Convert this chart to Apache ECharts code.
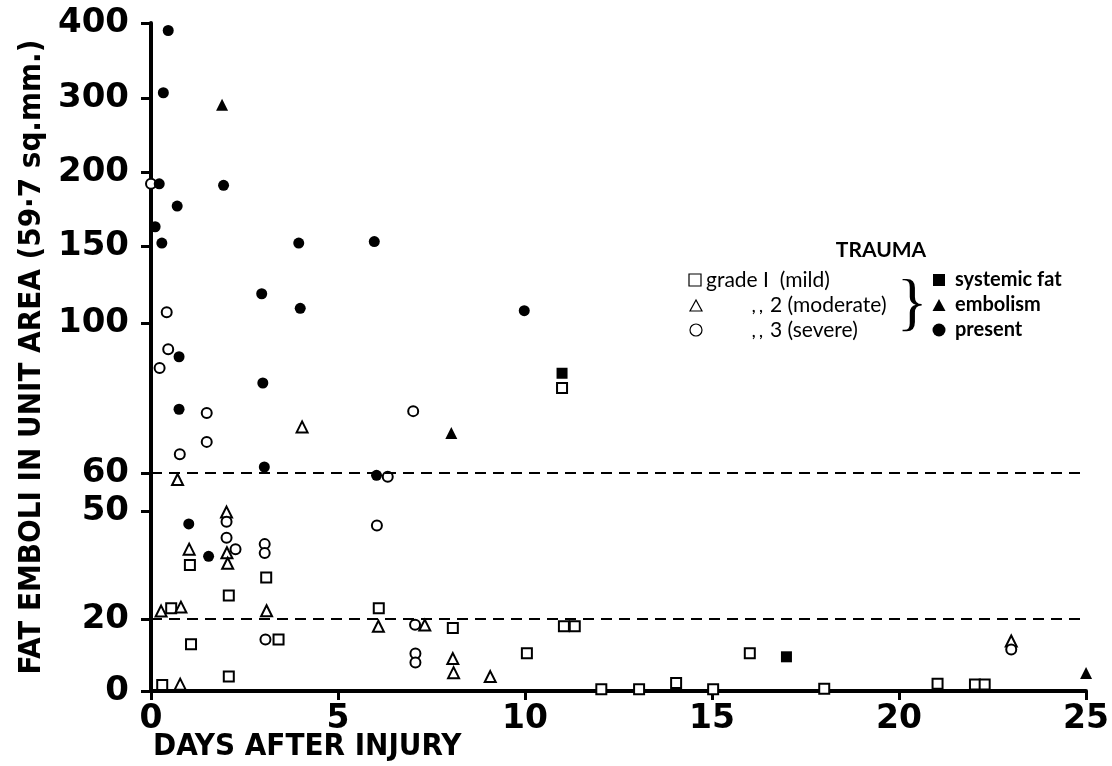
<!DOCTYPE html>
<html>
<head>
<meta charset="utf-8">
<title>Fat emboli after injury</title>
<script src="https://cdn.jsdelivr.net/npm/echarts@6.0.0/dist/echarts.min.js"></script>
<style>
  html, body { margin: 0; padding: 0; background: #fff; }
  #chart { width: 1112px; height: 766px; }
</style>
</head>
<body>
<div id="chart"></div>
<script>
// tick labels
const yTickValues = [0, 20, 50, 60, 100, 150, 200, 300, 400]
const xTickValues = [0, 5, 10, 15, 20, 25]

// [days after injury, fat emboli in unit area]
// no systemic fat embolism
const grade1 = [
  [1.04, 35], [3.08, 31.5], [2.08, 26.5], [0.54, 23], [1.07, 13], [3.41, 14.3],
  [2.08, 4], [0.3, 1.7], [6.09, 23], [8.07, 17.5], [11.04, 18], [11.33, 18],
  [10.05, 10.5], [12.04, 0.5], [13.05, 0.5], [14.04, 2.2], [15.03, 0.5],
  [16.01, 10.5], [18.0, 0.6], [21.03, 2], [22.03, 1.8], [22.29, 1.8], [10.99, 82.7]
]
const grade2 = [
  [0.71, 58.3], [2.02, 49.7], [1.02, 39.4], [2.03, 38.4], [2.05, 35.5], [0.27, 22.2],
  [0.8, 23.3], [3.09, 22.3], [0.78, 1.9], [4.04, 72.3], [6.08, 18], [7.32, 18.3],
  [8.07, 9], [8.09, 5.1], [9.07, 4], [23.0, 13.9]
]
const grade3 = [
  [0, 192], [0.42, 107], [0.46, 93], [0.23, 88], [1.49, 76], [1.49, 68.3], [0.77, 65],
  [2.02, 47], [2.02, 42.6], [2.26, 39.4], [3.04, 40.8], [3.04, 38.3], [3.06, 14.3],
  [7.01, 76.5], [6.33, 59], [6.04, 46], [7.06, 18.4], [7.07, 10.4], [7.07, 7.9], [23.0, 11.5]
]
// systemic fat embolism present
const grade1Emb = [[10.99, 86.6], [16.99, 9.5]]
const grade2Emb = [[1.9, 291], [8.03, 70.7], [25.0, 5]]
const grade3Emb = [
  [0.46, 390], [0.33, 307], [0.22, 192], [1.94, 191], [0.7, 177], [0.11, 163],
  [0.29, 152], [3.95, 152], [2.96, 119], [3.99, 109.5], [0.75, 91], [2.99, 84],
  [0.75, 77], [3.03, 61.6], [1.01, 46.4], [1.54, 37.4], [5.97, 153], [9.98, 108], [6.03, 59.4]
]
const cutoffs = [60, 20]

// the printed y scale is stretched piecewise: where each tick sits along the axis
const Y_TICK_POS = [0, 72, 180, 218, 368, 445, 519, 593, 668]

function toPos(v) {
  for (let i = 1; i < yTickValues.length; i++) {
    if (v <= yTickValues[i]) {
      const a = yTickValues[i - 1], b = yTickValues[i]
      return Y_TICK_POS[i - 1] + (v - a) / (b - a) * (Y_TICK_POS[i] - Y_TICK_POS[i - 1])
    }
  }
  return Y_TICK_POS[Y_TICK_POS.length - 1]
}
const mapPts = (arr) => arr.map(([d, v]) => [d, toPos(v)])

const chart = echarts.init(document.getElementById("chart"))

const heavy = "'DejaVu Sans', sans-serif"
const narrow = "'DejaVu Sans Condensed', 'Liberation Sans Narrow', 'DejaVu Sans', sans-serif"
const legendFont = "Lato, 'Open Sans', sans-serif"

const hollow = { color: "#fff", borderColor: "#000", borderWidth: 2, opacity: 1 }
const solid = { color: "#000", opacity: 1 }

const option = {
  animation: false,
  backgroundColor: "#fff",
  title: {
    text: "DAYS AFTER INJURY",
    left: 148,
    top: 726,
    textStyle: { fontFamily: narrow, fontWeight: "bold", fontSize: 31, color: "#000" }
  },
  grid: { left: 151, right: 22, top: 23, bottom: 75 },
  xAxis: {
    type: "value",
    min: 0,
    max: 25,
    interval: 5,
    splitLine: { show: false },
    axisLine: { lineStyle: { color: "#000", width: 4 } },
    axisTick: { length: 9, lineStyle: { color: "#000", width: 3 } },
    axisLabel: {
      margin: 12,
      fontFamily: heavy,
      fontWeight: "bold",
      fontSize: 33,
      color: "#000",
      customValues: xTickValues
    }
  },
  yAxis: {
    type: "value",
    min: 0,
    max: Y_TICK_POS[Y_TICK_POS.length - 1],
    name: "FAT EMBOLI IN UNIT AREA (59·7 sq.mm.)",
    nameLocation: "middle",
    nameRotate: 90,
    nameGap: 104,
    nameTextStyle: { fontFamily: narrow, fontWeight: "bold", fontSize: 31, color: "#000" },
    splitLine: { show: false },
    axisLine: { show: true, lineStyle: { color: "#000", width: 4 } },
    axisTick: { show: true, length: 10, lineStyle: { color: "#000", width: 3 }, customValues: Y_TICK_POS },
    axisLabel: {
      margin: 22,
      fontFamily: heavy,
      fontWeight: "bold",
      fontSize: 34,
      color: "#000",
      customValues: Y_TICK_POS,
      formatter: (p) => {
        const i = Y_TICK_POS.indexOf(p)
        return i >= 0 ? String(yTickValues[i]) : ""
      }
    }
  },
  series: [
    {
      name: "grade 1 (mild)", type: "scatter", symbol: "rect", symbolSize: 10,
      itemStyle: hollow, data: mapPts(grade1),
      markLine: {
        silent: true,
        symbol: ["none", "none"],
        label: { show: false },
        lineStyle: { color: "#000", width: 2, type: [11, 7], opacity: 1 },
        data: cutoffs.map((c) => ({ yAxis: toPos(c) }))
      }
    },
    { name: "2 (moderate)", type: "scatter", symbol: "triangle", symbolSize: 11, itemStyle: hollow, data: mapPts(grade2) },
    { name: "3 (severe)", type: "scatter", symbol: "circle", symbolSize: 10, itemStyle: hollow, data: mapPts(grade3) },
    { name: "systemic fat", type: "scatter", symbol: "rect", symbolSize: 11, itemStyle: solid, data: mapPts(grade1Emb), z: 3 },
    { name: "embolism", type: "scatter", symbol: "triangle", symbolSize: 12, itemStyle: solid, data: mapPts(grade2Emb), z: 3 },
    { name: "present", type: "scatter", symbol: "circle", symbolSize: 11, itemStyle: solid, data: mapPts(grade3Emb), z: 3 }
  ],
  // legend block drawn by hand (two columns joined by a brace)
  graphic: [
    { type: "text", x: 881, y: 250, style: { text: "TRAUMA", font: "bold 21px " + legendFont, fill: "#000", align: "center", verticalAlign: "middle" } },
    { type: "rect", shape: { x: 689, y: 274, width: 12, height: 12 }, style: { fill: "#fff", stroke: "#000", lineWidth: 1.2 } },
    { type: "text", x: 706, y: 280, style: { text: "grade I  (mild)", font: "21px " + legendFont, fill: "#000", verticalAlign: "middle" } },
    { type: "polygon", shape: { points: [[696, 300], [690, 311], [702, 311]] }, style: { fill: "#fff", stroke: "#000", lineWidth: 1.2 } },
    { type: "text", x: 752, y: 307, style: { text: ", ,", font: "bold 15px " + legendFont, fill: "#000", verticalAlign: "middle" } },
    { type: "text", x: 770, y: 305, style: { text: "2 (moderate)", font: "21px " + legendFont, fill: "#000", verticalAlign: "middle" } },
    { type: "circle", shape: { cx: 696, cy: 330, r: 6 }, style: { fill: "#fff", stroke: "#000", lineWidth: 1.2 } },
    { type: "text", x: 752, y: 332, style: { text: ", ,", font: "bold 15px " + legendFont, fill: "#000", verticalAlign: "middle" } },
    { type: "text", x: 770, y: 330, style: { text: "3 (severe)", font: "21px " + legendFont, fill: "#000", verticalAlign: "middle" } },
    { type: "text", x: 912, y: 306, style: { text: "}", font: "64px 'Liberation Serif', serif", fill: "#000", align: "center", verticalAlign: "middle" } },
    { type: "rect", shape: { x: 933, y: 274, width: 12, height: 12 }, style: { fill: "#000" } },
    { type: "text", x: 955, y: 280, style: { text: "systemic fat", font: "bold 20px " + legendFont, fill: "#000", verticalAlign: "middle" } },
    { type: "polygon", shape: { points: [[939, 299], [932.5, 311], [945.5, 311]] }, style: { fill: "#000" } },
    { type: "text", x: 955, y: 305, style: { text: "embolism", font: "bold 20px " + legendFont, fill: "#000", verticalAlign: "middle" } },
    { type: "circle", shape: { cx: 939, cy: 330, r: 6.5 }, style: { fill: "#000" } },
    { type: "text", x: 955, y: 330, style: { text: "present", font: "bold 20px " + legendFont, fill: "#000", verticalAlign: "middle" } }
  ]
}

chart.setOption(option)
</script>
</body>
</html>
